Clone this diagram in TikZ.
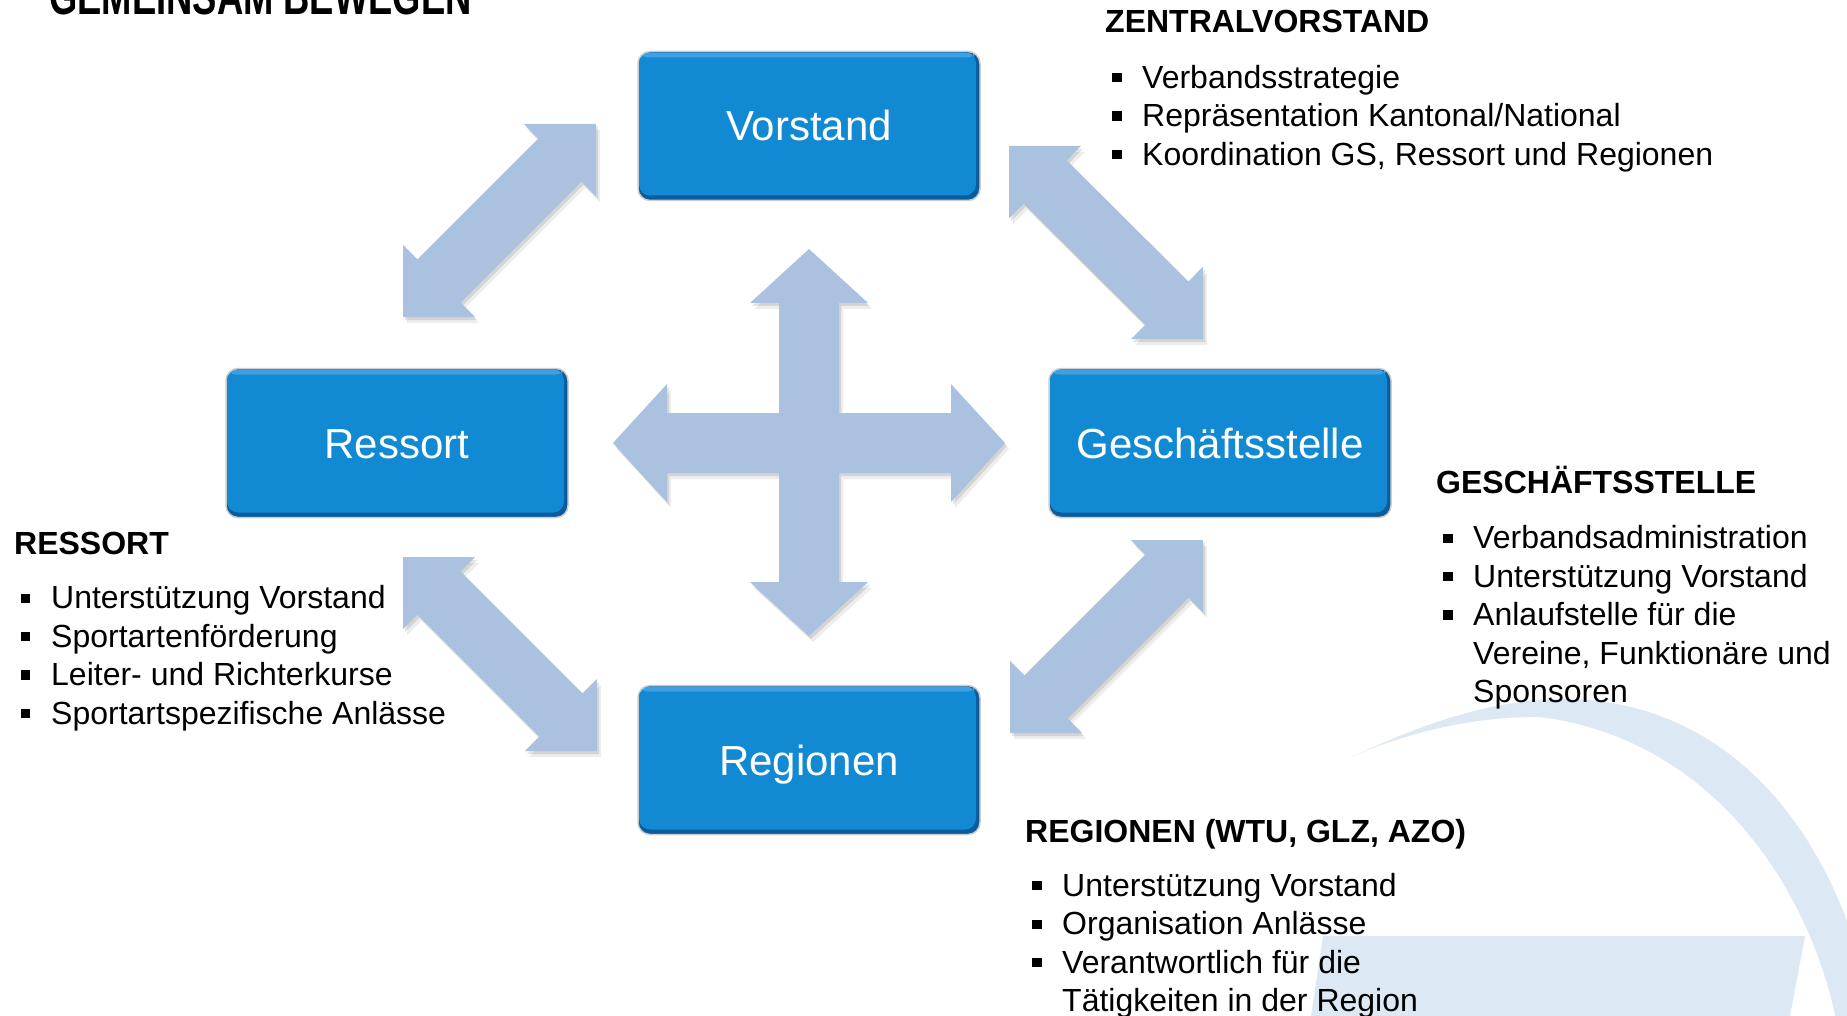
\documentclass[tikz,border=0pt]{standalone}
\usepackage{fontspec}
\setmainfont{Liberation Sans}
\usetikzlibrary{calc,shadows}
\definecolor{boxblue}{RGB}{17,138,211}
\definecolor{boxdark}{RGB}{11,92,156}
\definecolor{boxlight}{RGB}{60,160,226}
\definecolor{arrowblue}{RGB}{170,193,224}
\definecolor{swooshblue}{RGB}{220,232,244}
\definecolor{boxrim}{RGB}{205,205,205}
\newcommand\dblpath[5]{(#1)
 -- ($($(#1)!#3!(#2)$)!#4!90:(#2)$)
 -- ($($(#1)!#3!(#2)$)!#5!90:(#2)$)
 -- ($($(#2)!#3!(#1)$)!#5!-90:(#1)$)
 -- ($($(#2)!#3!(#1)$)!#4!-90:(#1)$)
 -- (#2)
 -- ($($(#2)!#3!(#1)$)!#4!90:(#1)$)
 -- ($($(#2)!#3!(#1)$)!#5!90:(#1)$)
 -- ($($(#1)!#3!(#2)$)!#5!-90:(#2)$)
 -- ($($(#1)!#3!(#2)$)!#4!-90:(#2)$)
 -- cycle}
\newcommand\bul{\raisebox{6pt}{\rule{9.3pt}{9.3pt}}}
\tikzset{
  arrowshape/.style={fill=arrowblue,
    general shadow={fill=black, opacity=.10, shadow xshift=2pt, shadow yshift=-3pt},
    general shadow={fill=black, opacity=.07, shadow xshift=4pt, shadow yshift=-6pt}},
  orgbox/.style={rounded corners=12pt, minimum width=342pt, minimum height=149pt,
    inner sep=0pt, fill=boxdark, draw=boxrim, line width=1.5pt, text=white,
    font=\fontsize{42}{50}\selectfont, text height=30pt, text depth=0pt,
    path picture={
      \fill[boxblue, rounded corners=11pt]
        ([shift={(1pt,-1pt)}]path picture bounding box.north west) rectangle
        ([shift={(-4pt,5pt)}]path picture bounding box.south east);
      \fill[boxlight, rounded corners=6pt]
        ([shift={(3pt,-1.5pt)}]path picture bounding box.north west) rectangle
        ([shift={(-6pt,-6pt)}]path picture bounding box.north east);
    }},
  hdr/.style={anchor=base west, inner sep=0pt, font=\bfseries\fontsize{32}{38.4}\selectfont},
  lst/.style={anchor=base west, inner sep=0pt, font=\fontsize{32}{38.4}\selectfont}
}
\begin{document}
\begin{tikzpicture}[x=1pt,y=-1pt]
\useasboundingbox (0,0) rectangle (1847,1016);
\clip (0,0) rectangle (1847,1016);
\fill[white] (0,0) rectangle (1847,1016);

% background swoosh
\fill[swooshblue] (1352,757) .. controls (1430,720) and (1500,698) .. (1570,699)
  .. controls (1700,702) and (1810,790) .. (1860,960) -- (1870,1030) -- (1838,1030)
  .. controls (1815,900) and (1720,740) .. (1540,717)
  .. controls (1470,716) and (1400,735) .. (1352,757) -- cycle;
\fill[swooshblue] (1323,936) -- (1805,936) -- (1790,1016) -- (1311,1016) -- cycle;

% title (cut off at the top, as in the original)
\node[anchor=base west, inner sep=0pt, xscale=0.7, font=\bfseries\fontsize{52}{52}\selectfont] (title) at (49,14.5) {GEMEINSAM BEWEGEN};

% arrow end points
\coordinate (tlA) at (403,317); \coordinate (tlB) at (596,124);
\coordinate (trA) at (1009,146); \coordinate (trB) at (1203,339);
\coordinate (blA) at (403,557); \coordinate (blB) at (597,751);
\coordinate (brA) at (1010,733); \coordinate (brB) at (1203,540);
\coordinate (cvT) at (809,249); \coordinate (cvB) at (809,636);
\coordinate (chL) at (613,443); \coordinate (chR) at (1005,443);

\fill[arrowshape] \dblpath{tlA}{tlB}{51pt}{51pt}{30.5pt};
\fill[arrowshape] \dblpath{trA}{trB}{51pt}{51pt}{30.5pt};
\fill[arrowshape] \dblpath{blA}{blB}{51pt}{51pt}{30.5pt};
\fill[arrowshape] \dblpath{brA}{brB}{51pt}{51pt}{30.5pt};
\fill[arrowshape] \dblpath{cvT}{cvB}{54pt}{59pt}{30pt} \dblpath{chL}{chR}{54pt}{59pt}{30pt};

% boxes
\node[orgbox] (vor) at (809,126) {Vorstand};
\node[orgbox] (res) at (397,443) {Ressort};
\node[orgbox] (ges) at (1220,443) {Geschäftsstelle};
\node[orgbox] (reg) at (809,760) {Regionen};

% text blocks
\node[hdr] (zh) at (1105,33) {ZENTRALVORSTAND};
\node[lst] (zl) at (1112,88.4) {\begin{tabular}[t]{@{}p{30pt}@{}l@{}}
\bul & Verbandsstrategie\\
\bul & Repräsentation Kantonal/National\\
\bul & Koordination GS, Ressort und Regionen
\end{tabular}};

\node[hdr] (gh) at (1436,493.5) {GESCHÄFTSSTELLE};
\node[lst] (gl) at (1443,548.9) {\begin{tabular}[t]{@{}p{30pt}@{}l@{}}
\bul & Verbandsadministration\\
\bul & Unterstützung Vorstand\\
\bul & Anlaufstelle für die\\
 & Vereine, Funktionäre und\\
 & Sponsoren
\end{tabular}};

\node[hdr] (rh) at (14,554.5) {RESSORT};
\node[lst] (rl) at (21,608.9) {\begin{tabular}[t]{@{}p{30pt}@{}l@{}}
\bul & Unterstützung Vorstand\\
\bul & Sportartenförderung\\
\bul & Leiter- und Richterkurse\\
\bul & Sportartspezifische Anlässe
\end{tabular}};

\node[hdr] (egh) at (1025,842) {REGIONEN (WTU, GLZ, AZO)};
\node[lst] (egl) at (1032,896.4) {\begin{tabular}[t]{@{}p{30pt}@{}l@{}}
\bul & Unterstützung Vorstand\\
\bul & Organisation Anlässe\\
\bul & Verantwortlich für die\\
 & Tätigkeiten in der Region
\end{tabular}};
\end{tikzpicture}
\end{document}
